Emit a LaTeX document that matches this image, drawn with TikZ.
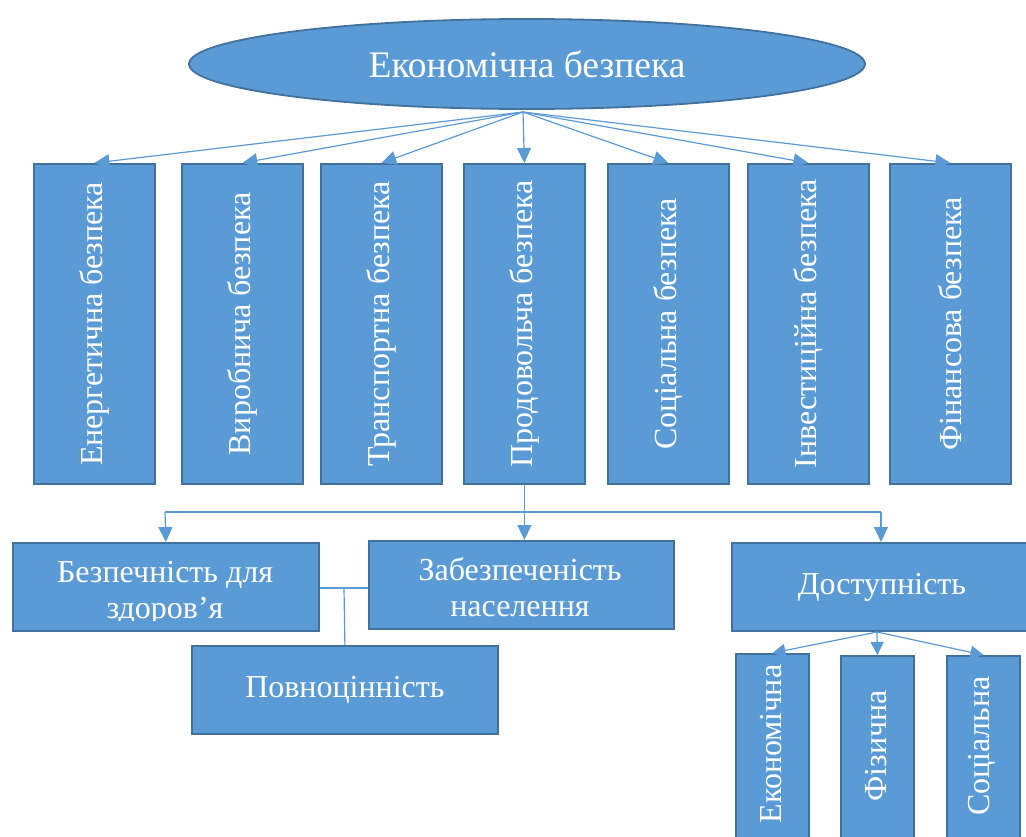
\documentclass[tikz,border=0pt]{standalone}
\usepackage{fontspec}
\setmainfont{Liberation Serif}
\usetikzlibrary{arrows.meta,shapes.geometric}
\definecolor{bfill}{HTML}{5B9BD5}
\definecolor{bdraw}{HTML}{41719C}
\begin{document}
\begin{tikzpicture}[x=1pt,y=-1pt,
  boxst/.style={draw=bdraw, fill=bfill, line width=1.8pt, inner sep=0pt, anchor=north west},
  wtext/.style={text=white, inner sep=0pt, font=\fontsize{32}{36}\selectfont},
  vlab/.style={wtext, rotate=90},
  conn/.style={draw=bfill, line width=1.2pt},
  arr/.style={conn, -{Triangle[length=15pt,width=14pt]}},
  sarr/.style={conn, -{Triangle[length=13pt,width=13pt]}}]
\clip (0,0) rectangle (1026,836);
\fill[white] (0,0) rectangle (1026,836);
% top ellipse
\node[ellipse, draw=bdraw, fill=bfill, line width=1.8pt, minimum width=676pt, minimum height=90pt, inner sep=0pt,
  text=white, font=\fontsize{37.5}{42}\selectfont] (top) at (527,64) {Економічна безпека};
\coordinate (fan) at (523,112);
% vertical boxes
\node[boxst, minimum width=121pt, minimum height=320pt] (b1) at (33,163) {};
\node[boxst, minimum width=121pt, minimum height=320pt] (b2) at (181,163) {};
\node[boxst, minimum width=121pt, minimum height=320pt] (b3) at (320,163) {};
\node[boxst, minimum width=121pt, minimum height=320pt] (b4) at (463,163) {};
\node[boxst, minimum width=121pt, minimum height=320pt] (b5) at (607,163) {};
\node[boxst, minimum width=121pt, minimum height=320pt] (b6) at (747,163) {};
\node[boxst, minimum width=121pt, minimum height=320pt] (b7) at (889,163) {};
\node[vlab] (t1) at (b1) {Енергетична безпека};
\node[vlab] (t2) at (b2) {Виробнича безпека};
\node[vlab] (t3) at (b3) {Транспортна безпека};
\node[vlab] (t4) at (b4) {Продовольча безпека};
\node[vlab] (t5) at (b5) {Соціальна безпека};
\node[vlab] (t6) at (b6) {Інвестиційна безпека};
\node[vlab] (t7) at (b7) {Фінансова безпека};
\foreach \i in {1,...,7} {\draw[arr] (fan) -- (b\i.north);}
% second level
\node[boxst, minimum width=306pt, minimum height=88pt] (s1) at (12,542) {};
\node[boxst, minimum width=305pt, minimum height=88pt] (s2) at (368,540) {};
\node[boxst, minimum width=300pt, minimum height=88pt] (s3) at (731,542) {};
\node[boxst, minimum width=306pt, minimum height=88pt] (s4) at (191,645) {};
\begin{scope}
  \clip (12,542) rectangle (318,620);
  \node[wtext, align=center, anchor=base] (s1t) at (165,618) {Безпечність для\\здоров’я};
\end{scope}
\begin{scope}
  \clip (368,540) rectangle (673,618);
  \node[wtext, align=center, anchor=base] (s2t) at (520,616) {Забезпеченість\\населення};
\end{scope}
\node[wtext] (s3t) at (s3) {Доступність};
\node[wtext] (s4t) at (s4) {Повноцінність};
\coordinate (hl) at (165,512);
\coordinate (hr) at (881,512);
\draw[conn] (b4.south) -- (b4.south |- hl);
\draw[conn] (hl) -- (hr);
\draw[arr] (hl) -- (s1.north);
\draw[arr] (b4.south |- hl) -- (b4.south |- s2.north);
\draw[arr] (hr) -- (hr |- s3.north);
\coordinate (jn) at (344,588);
\draw[conn] (s1.east |- jn) -- (s2.west |- jn);
\draw[conn] (jn) -- (s4.north);
% third level
\node[boxst, minimum width=73pt, minimum height=190pt] (d1) at (735,653) {};
\node[boxst, minimum width=73pt, minimum height=190pt] (d2) at (840,655) {};
\node[boxst, minimum width=73pt, minimum height=190pt] (d3) at (946,655) {};
\node[vlab] (d1t) at (771,744) {Економічна};
\node[vlab] (d2t) at (876,746) {Фізична};
\node[vlab] (d3t) at (982,746) {Соціальна};
\coordinate (dfan) at (877,632);
\draw[sarr] (dfan) -- (d1.north);
\draw[sarr] (dfan) -- (d2.north);
\draw[sarr] (dfan) -- (d3.north);
\end{tikzpicture}
\end{document}
